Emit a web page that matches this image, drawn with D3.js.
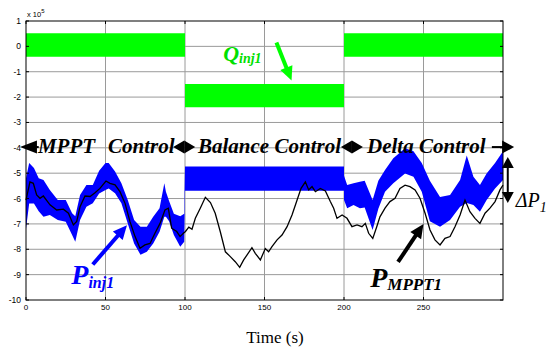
<!DOCTYPE html>
<html>
<head>
<meta charset="utf-8">
<script src="https://d3js.org/d3.v7.min.js"></script>
<style>
  body { margin: 0; background: #fff; }
  svg text { font-family: "Liberation Sans", Arial, sans-serif; }
  .serif { font-family: "Liberation Serif", "Times New Roman", serif !important; }
</style>
</head>
<body>
<svg id="chart" width="550" height="350"></svg>
<script>
// tick labels
var xTicks = [0, 50, 100, 150, 200, 250];
var yTicks = [1, 0, -1, -2, -3, -4, -5, -6, -7, -8, -9, -10];

// Q_inj1 (green band), x 1e5
var qTime  = [0, 100, 100, 200, 200, 300];
var qUpper = [0.52, 0.52, -1.48, -1.48, 0.52, 0.52];
var qLower = [-0.41, -0.41, -2.4, -2.4, -0.41, -0.41];

// P_inj1 (blue band), x 1e5
var pTime  = [0, 2, 5, 8, 11, 15, 20, 25, 29, 31, 34, 38, 42, 46, 50, 52, 56, 60, 64, 68, 72, 76, 80, 84, 87, 88, 90, 93, 97, 99.5,
              100, 200,
              200, 202, 206, 210, 213, 218, 221.6, 225.8, 231, 238.4, 243.7, 248.9, 254, 260.4, 266.7, 273, 277.2, 281.4, 285.5, 289.7, 295, 300];
var pUpper = [-5.2, -4.6, -4.8, -5.2, -5.27, -5.66, -6.06, -6.06, -6.58, -6.7, -5.86, -5.47, -5.47, -4.9, -4.6, -4.6, -4.93, -5.4, -6.06, -6.85, -7.11, -7.11, -6.72, -6.38, -5.4, -5.73, -6.1, -6.6, -6.7, -6.6,
              -4.74, -4.74,
              -5.1, -5.47, -5.4, -5.34, -5.3, -6.06, -5.3, -4.87, -4.41, -4.02, -4.14, -4.6, -5.3, -5.94, -5.86, -5.27, -4.3, -5.14, -5.47, -5.01, -4.6, -4.14];
var pLower = [-7.2, -6.2, -6.2, -6.5, -6.72, -6.65, -6.85, -6.91, -7.44, -7.7, -6.85, -6.32, -6.19, -5.8, -5.66, -5.6, -5.79, -6.19, -6.98, -7.77, -8.22, -8.1, -7.77, -7.31, -6.72, -6.72, -6.9, -7.44, -7.9, -7.7,
              -5.69, -5.69,
              -6.06, -6.38, -6.25, -6.38, -6.35, -7.24, -6.4, -5.73, -5.4, -5.01, -5.14, -5.73, -6.9, -7.11, -6.85, -6.32, -6.18, -6.25, -6.52, -6.06, -5.6, -5.27];

// P_MPPT1 (black line), x 1e5
var mTime  = [0, 2.5, 4.6, 6.7, 8.8, 10.9, 15.1, 19.3, 23.5, 26.7, 29.8, 31.9, 34, 37.1, 40.3, 43.4, 46.5, 50.3, 52.8, 56, 59.1, 62.3, 65.4, 68.6, 71.7, 74.8, 78, 81.1, 84.3, 87.4, 89.5, 91.6, 94.8, 96.9, 99,
              100.3, 102.4, 104.4, 106.5, 109.6, 112.8, 116, 119, 122.2, 125.4, 128.5, 131.6, 134.4, 136.9, 142.1, 144.2, 147.4, 150.5, 152.6, 154.7, 157.9, 161, 164.2, 167.3, 170.5, 173, 175.7, 177.8, 179.9, 182, 185.1, 188.3, 191.4, 193.5, 195.6, 198.8,
              201.9, 205, 208.2, 211.3, 213.4, 215.5, 218.1, 220.6, 222.6, 225.8, 228.9, 232.1, 235.2, 238.4, 241.5, 244.7, 247.8, 251, 254.1, 257.2, 260.4, 263.5, 266.7, 269.8, 273, 276.1, 279.2, 282.4, 285.5, 288.7, 291.8, 295, 298.1, 300];
var mValue = [-6.06, -5.34, -5.4, -5.86, -5.99, -5.9, -6.25, -6.45, -6.42, -6.58, -7.04, -6.9, -6.32, -5.9, -5.92, -5.77, -5.6, -5.31, -5.4, -5.46, -5.73, -6.19, -6.91, -7.5, -7.96, -7.83, -7.77, -7.37, -6.98, -6.45, -6.38, -7.17, -7.3, -7.5, -7.37,
              -7.3, -7.13, -7.21, -6.78, -6.38, -5.95, -6.16, -6.58, -7.31, -8.1, -8.29, -8.49, -8.71, -8.42, -7.94, -8.16, -8.42, -7.97, -8.1, -7.9, -7.63, -7.44, -7.11, -6.65, -6.06, -5.6, -5.34, -5.66, -5.53, -5.73, -5.6, -5.7, -6.12, -6.38, -6.78, -6.65,
              -6.78, -7.11, -7.04, -7.11, -6.98, -7.37, -7.57, -7.11, -6.72, -6.38, -6.12, -5.99, -5.6, -5.47, -5.53, -5.66, -5.99, -6.58, -7.24, -7.63, -7.83, -7.57, -7.5, -7.11, -6.65, -6.06, -6.52, -6.78, -6.98, -6.58, -6.38, -6.12, -5.66, -5.47];

var svg = d3.select("#chart");
var x = d3.scaleLinear().domain([0, 300]).range([26, 503]);
var y = d3.scaleLinear().domain([-10, 1]).range([300, 21]);

// grid
svg.append("g").selectAll("line").data(xTicks.slice(1)).enter().append("line")
    .attr("x1", function(d) { return x(d); }).attr("x2", function(d) { return x(d); })
    .attr("y1", y(1)).attr("y2", y(-10))
    .attr("stroke", "#9a9a9a").attr("stroke-width", 1);
svg.append("g").selectAll("line").data(yTicks.slice(1, -1)).enter().append("line")
    .attr("x1", x(0)).attr("x2", x(300))
    .attr("y1", function(d) { return y(d); }).attr("y2", function(d) { return y(d); })
    .attr("stroke", "#9a9a9a").attr("stroke-width", 1);

// green band
var qData = qTime.map(function(t, i) { return [t, qUpper[i], qLower[i]]; });
svg.append("path").datum(qData)
    .attr("fill", "#00ff00")
    .attr("d", d3.area().x(function(d) { return x(d[0]); })
        .y0(function(d) { return y(d[2]); }).y1(function(d) { return y(d[1]); }));

// blue band
var pData = pTime.map(function(t, i) { return [t, pUpper[i], pLower[i]]; });
svg.append("path").datum(pData)
    .attr("fill", "#0000ff")
    .attr("d", d3.area().x(function(d) { return x(d[0]); })
        .y0(function(d) { return y(d[2]); }).y1(function(d) { return y(d[1]); }));

// black line
var mData = mTime.map(function(t, i) { return [t, mValue[i]]; });
svg.append("path").datum(mData)
    .attr("fill", "none").attr("stroke", "#000").attr("stroke-width", 1.3)
    .attr("d", d3.line().x(function(d) { return x(d[0]); }).y(function(d) { return y(d[1]); }));

// box + ticks
svg.append("rect").attr("x", x(0)).attr("y", y(1))
    .attr("width", x(300) - x(0)).attr("height", y(-10) - y(1))
    .attr("fill", "none").attr("stroke", "#000").attr("stroke-width", 1);
var tk = svg.append("g").attr("stroke", "#000").attr("stroke-width", 1);
xTicks.forEach(function(d) {
    tk.append("line").attr("x1", x(d)).attr("x2", x(d)).attr("y1", y(-10)).attr("y2", y(-10) - 3);
    tk.append("line").attr("x1", x(d)).attr("x2", x(d)).attr("y1", y(1)).attr("y2", y(1) + 3);
});
yTicks.forEach(function(d) {
    tk.append("line").attr("x1", x(0)).attr("x2", x(0) + 3).attr("y1", y(d)).attr("y2", y(d));
    tk.append("line").attr("x1", x(300)).attr("x2", x(300) - 3).attr("y1", y(d)).attr("y2", y(d));
});

// tick labels
svg.append("g").selectAll("text").data(xTicks).enter().append("text")
    .attr("x", function(d) { return x(d); }).attr("y", y(-10) + 10)
    .attr("text-anchor", "middle").attr("font-size", 8)
    .text(function(d) { return d; });
svg.append("g").selectAll("text").data(yTicks).enter().append("text")
    .attr("x", x(0) - 5).attr("y", function(d) { return y(d) + 3; })
    .attr("text-anchor", "end").attr("font-size", 8.5)
    .text(function(d) { return d; });
var ex = svg.append("text").attr("x", 27).attr("y", 17).attr("font-size", 7.5);
ex.append("tspan").text("x 10");
ex.append("tspan").attr("dy", -4).attr("font-size", 6).text("5");

svg.append("text").attr("class", "serif")
    .attr("x", 275).attr("y", 343).attr("text-anchor", "middle")
    .attr("font-size", 17).text("Time (s)");

// annotation helpers
function head(g, tipX, tipY, angle, len, wid, color) {
    g.append("path")
        .attr("d", "M0,0 L" + (-len) + "," + (-wid / 2) + " L" + (-len) + "," + (wid / 2) + " Z")
        .attr("fill", color)
        .attr("transform", "translate(" + tipX + "," + tipY + ") rotate(" + angle + ")");
}
function arrow(x1, y1, x2, y2, color, w) {
    var g = svg.append("g");
    var ang = Math.atan2(y2 - y1, x2 - x1) * 180 / Math.PI;
    var len = Math.sqrt((x2 - x1) * (x2 - x1) + (y2 - y1) * (y2 - y1));
    var f = (len - 12) / len;
    g.append("line").attr("x1", x1).attr("y1", y1)
        .attr("x2", x1 + (x2 - x1) * f).attr("y2", y1 + (y2 - y1) * f)
        .attr("stroke", color).attr("stroke-width", w);
    head(g, x2, y2, ang, 14, 13, color);
}

// control region arrows
var rowY = y(-3.97);
var ann = svg.append("g");
head(ann, x(-3.8), rowY, 180, 17, 13, "#000");
ann.append("line").attr("x1", x(5)).attr("x2", x(8)).attr("y1", rowY).attr("y2", rowY).attr("stroke", "#000").attr("stroke-width", 2);
[99.5, 205].forEach(function(c) {
    head(ann, x(c) - 11, rowY, 180, 11, 13, "#000");
    head(ann, x(c) + 11, rowY, 0, 11, 13, "#000");
});
ann.append("line").attr("x1", x(293)).attr("x2", x(302)).attr("y1", rowY).attr("y2", rowY).attr("stroke", "#000").attr("stroke-width", 2);
head(ann, x(307), rowY, 0, 12, 13, "#000");

var lblY = y(-4.2);
[["MPPT", 7.5], ["Control", 51.6], ["Balance Control", 108.2], ["Delta Control", 214.5]].forEach(function(d) {
    ann.append("text").attr("class", "serif")
        .attr("x", x(d[1])).attr("y", lblY)
        .attr("font-size", 21).attr("font-weight", "bold").attr("font-style", "italic")
        .text(d[0]);
});

// delta P arrow
var dx = x(303);
ann.append("line").attr("x1", dx).attr("x2", dx).attr("y1", y(-4.36) + 10).attr("y2", y(-6.18) - 10)
    .attr("stroke", "#000").attr("stroke-width", 2);
head(ann, dx, y(-4.36), -90, 11, 12, "#000");
head(ann, dx, y(-6.18), 90, 11, 12, "#000");
var dp = ann.append("text").attr("class", "serif").attr("x", dx + 8).attr("y", y(-6.2) + 3)
    .attr("font-size", 20).attr("font-style", "italic");
dp.append("tspan").text("\u0394P");
dp.append("tspan").attr("dy", 5).attr("font-size", 14).text("1");

// Q_inj1
arrow(x(157.5), y(0.15), x(167), y(-1.35), "#00ff00", 4);
var qt = svg.append("text").attr("class", "serif").attr("x", x(124)).attr("y", y(-0.56))
    .attr("fill", "#00e000").attr("font-weight", "bold").attr("font-style", "italic").attr("font-size", 22);
qt.append("tspan").text("Q");
qt.append("tspan").attr("dy", 2).attr("font-size", 14).text("inj1");

// P_inj1
arrow(x(42), y(-8.6), x(63.5), y(-7.05), "#0000ff", 4);
var pt = svg.append("text").attr("class", "serif").attr("x", x(28.5)).attr("y", y(-9.35))
    .attr("fill", "#0000ff").attr("font-weight", "bold").attr("font-style", "italic").attr("font-size", 28);
pt.append("tspan").text("P");
pt.append("tspan").attr("dy", 4).attr("font-size", 16).text("inj1");

// P_MPPT1
arrow(x(234), y(-8.5), x(250), y(-7.0), "#000", 4);
var mt = svg.append("text").attr("class", "serif").attr("x", x(216.5)).attr("y", y(-9.5))
    .attr("fill", "#000").attr("font-weight", "bold").attr("font-style", "italic").attr("font-size", 28);
mt.append("tspan").text("P");
mt.append("tspan").attr("dy", 3).attr("font-size", 17).text("MPPT1");
</script>
</body>
</html>
